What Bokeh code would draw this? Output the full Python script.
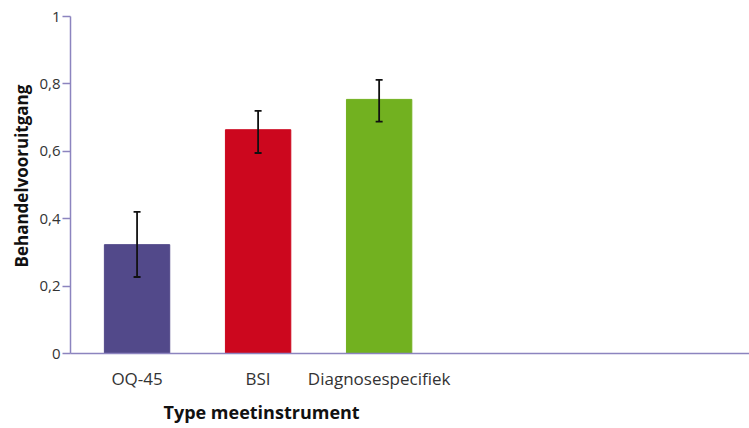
from bokeh.plotting import figure
from bokeh.models import (ColumnDataSource, Range1d, FixedTicker, CustomJSTickFormatter,
                          Whisker, TeeHead, Title)
from bokeh.embed import file_html
from bokeh.resources import INLINE

categories = ["OQ-45", "BSI", "Diagnosespecifiek"]
values = [0.323, 0.664, 0.754]
err_low = [0.227, 0.595, 0.688]
err_high = [0.42, 0.72, 0.812]
colors = ["#52498a", "#cc071e", "#72b120"]
y_ticks = [0, 0.2, 0.4, 0.6, 0.8, 1.0]

FONT = "Open Sans"
xs = list(range(len(categories)))
src = ColumnDataSource(dict(x=xs, top=values, lo=err_low, hi=err_high, color=colors))

p = figure(width=749, height=428, output_backend="svg", toolbar_location=None,
           x_range=Range1d(-0.55, 5.06), y_range=Range1d(0, 1),
           min_border_left=70, min_border_right=0, min_border_top=16, min_border_bottom=69)
p.outline_line_color = None
p.xgrid.grid_line_color = None
p.ygrid.grid_line_color = None
p.background_fill_color = "white"

p.vbar(x="x", top="top", width=0.54, color="color", source=src)

w = Whisker(base="x", lower="lo", upper="hi", source=src, line_color="#111111", line_width=1.8,
            level="overlay",
            upper_head=TeeHead(size=7, line_color="#111111", line_width=1.8),
            lower_head=TeeHead(size=7, line_color="#111111", line_width=1.8))
p.add_layout(w)

axis_color = "#8c84bf"
p.yaxis.ticker = FixedTicker(ticks=y_ticks)
p.yaxis.formatter = CustomJSTickFormatter(code="""
if (Math.abs(tick) < 1e-9) return "0";
if (Math.abs(tick-1) < 1e-9) return "1";
return tick.toFixed(1).replace('.', ',');
""")
p.yaxis.axis_line_color = axis_color
p.yaxis.axis_line_width = 1.5
p.yaxis.major_tick_line_color = axis_color
p.yaxis.major_tick_line_width = 1.5
p.yaxis.major_tick_out = 8
p.yaxis.major_tick_in = 0
p.yaxis.minor_tick_line_color = None
p.yaxis.major_label_standoff = 2
p.yaxis.major_label_text_font = FONT
p.yaxis.major_label_text_font_size = "15px"
p.yaxis.major_label_text_color = "#333333"

p.xaxis.ticker = FixedTicker(ticks=xs)
p.xaxis.major_label_overrides = {i: c for i, c in zip(xs, categories)}
p.xaxis.axis_line_color = axis_color
p.xaxis.axis_line_width = 1.5
p.xaxis.major_tick_line_color = None
p.xaxis.minor_tick_line_color = None
p.xaxis.major_label_standoff = 7
p.xaxis.major_label_text_font = FONT
p.xaxis.major_label_text_font_size = "17px"
p.xaxis.major_label_text_color = "#333333"

ytitle = Title(text="Behandelvooruitgang", align="left", offset=86, standoff=7,
               text_font=FONT, text_font_size="17px", text_font_style="bold",
               text_color="#111111")
xtitle = Title(text="Type meetinstrument", align="left", offset=93, standoff=10,
               text_font=FONT, text_font_size="18px", text_font_style="bold",
               text_color="#111111")
p.add_layout(ytitle, "left")
p.add_layout(xtitle, "below")

open("out.html", "w").write(file_html(p, INLINE))
